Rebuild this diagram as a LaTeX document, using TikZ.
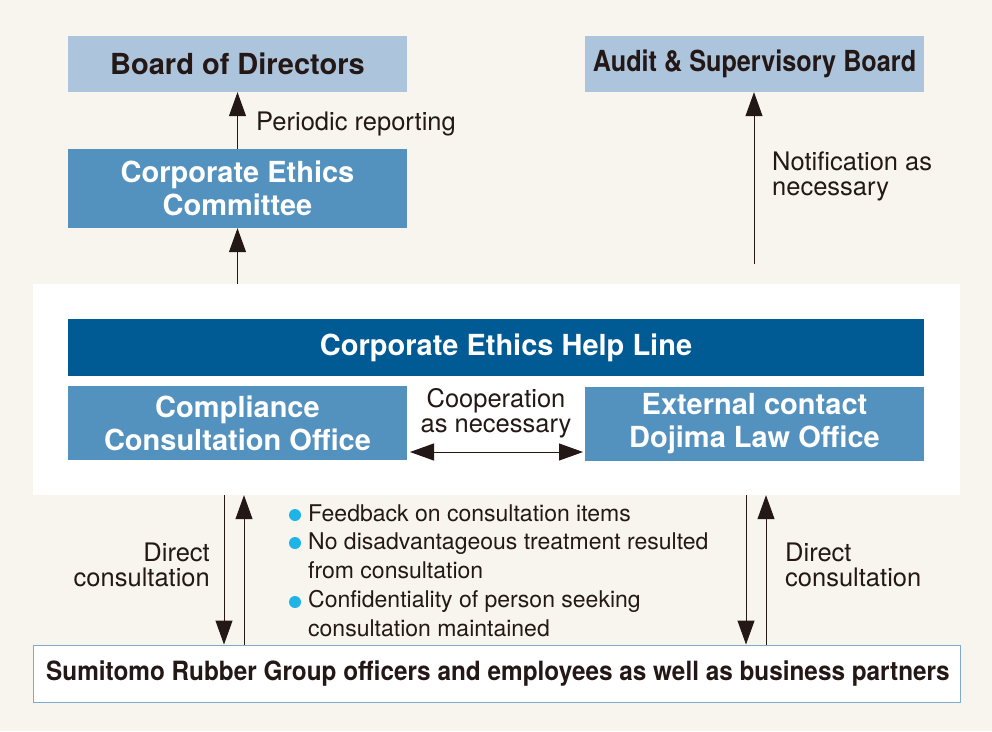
\documentclass[tikz,border=0pt]{standalone}
\usepackage{fontspec}
\setmainfont{TeX Gyre Heros}
\usetikzlibrary{arrows.meta}
\definecolor{bgc}{HTML}{F8F5EE}
\definecolor{lblue}{HTML}{ADC4DD}
\definecolor{mblue}{HTML}{5392BF}
\definecolor{dblue}{HTML}{005B95}
\definecolor{txt}{HTML}{231815}
\definecolor{bord}{HTML}{7FAAD0}
\definecolor{cyanb}{HTML}{1EB4E8}
\tikzset{
  box/.style={rectangle, inner sep=0pt, minimum width=339pt, minimum height=56pt, align=center},
  topbox/.style={box, fill=lblue, text=txt, font=\fontsize{29}{33}\selectfont\bfseries},
  midbox/.style={box, fill=mblue, text=white, font=\fontsize{29}{33}\selectfont\bfseries},
  lbl/.style={text=txt, font=\fontsize{25.5}{25}\selectfont, inner sep=0pt},
  bultxt/.style={lbl, align=left, anchor=base west, font=\fontsize{23}{29}\selectfont},
  arr/.style={draw=txt, line width=1pt, -{Triangle[length=24pt,width=17pt]}},
  darr/.style={draw=txt, line width=1pt, {Triangle[length=24pt,width=17pt]}-{Triangle[length=24pt,width=17pt]}},
  bul/.style={circle, fill=cyanb, inner sep=0pt, minimum size=12pt}
}
\begin{document}
\begin{tikzpicture}[x=1pt,y=-1pt]
\fill[bgc] (0,0) rectangle (992,731);
\useasboundingbox (0,0) rectangle (992,731);
% white help-line panel
\node[rectangle, fill=white, inner sep=0pt, minimum width=927pt, minimum height=211pt] (panel) at (496.5,389.5) {};
% top boxes
\node[topbox] (bod) at (237.5,64) {Board of Directors};
\node[topbox] (asb) at (754.5,64) {\scalebox{0.87}[1]{Audit \& Supervisory Board}};
\node[midbox, minimum height=79pt] (cec) at (237.5,188.5) {Corporate Ethics\\Committee};
% help line
\node[box, minimum width=856pt, minimum height=57pt, fill=dblue, text=white, font=\fontsize{29}{33}\selectfont\bfseries] (help) at (496,347.5) {\hspace*{20pt}Corporate Ethics Help Line};
\node[midbox, minimum height=74pt] (cco) at (237.5,423) {Compliance\\Consultation Office};
\node[midbox, minimum height=74pt] (ext) at (754.5,424) {External contact\\Dojima Law Office};
% bottom box
\node[rectangle, draw=bord, line width=1pt, fill=white, inner sep=0pt, minimum width=927pt, minimum height=57pt, text=txt, font=\fontsize{26.5}{30}\selectfont\bfseries] (emp) at (496.5,673.5) {\hspace*{3pt}\scalebox{0.918}[1]{Sumitomo Rubber Group officers and employees as well as business partners}};
% arrows top
\draw[arr] (cec.north -| bod.south) -- (bod.south);
\draw[arr] (panel.north -| cec.south) -- (cec.south);
\coordinate (nstart) at (754,264);
\draw[arr] (nstart) -- (nstart |- asb.south);
\node[lbl, anchor=base west] (lpr) at (256,130) {Periodic reporting};
\node[lbl, anchor=base west, align=left] (lnot) at (772,195) {Notification as\\necessary};
% cooperation
\draw[darr] (410,452) coordinate (cl) -- (583,452) coordinate (cr);
\node[lbl, anchor=base, align=center] (lcoop) at (496,432) {Cooperation\\as necessary};
% bottom arrows
\coordinate (l1) at (224,0); \coordinate (l2) at (244,0);
\coordinate (r1) at (746,0); \coordinate (r2) at (766,0);
\draw[arr] (l1 |- panel.south) -- (l1 |- emp.north);
\draw[arr] (l2 |- emp.north) -- (l2 |- panel.south);
\draw[arr] (r1 |- panel.south) -- (r1 |- emp.north);
\draw[arr] (r2 |- emp.north) -- (r2 |- panel.south);
\node[lbl, anchor=base east, align=right] (ldl) at (210,586) {Direct\\consultation};
\node[lbl, anchor=base west, align=left] (ldr) at (785,586) {Direct\\consultation};
% bullets
\node[bul] (b1) at (295,515) {};
\node[bul] (b2) at (295,543) {};
\node[bul] (b3) at (295,602) {};
\node[bultxt] (t1) at (308,521) {Feedback on consultation items};
\node[bultxt] (t2) at (308,578) {No disadvantageous treatment resulted\\from consultation};
\node[bultxt] (t3) at (308,636) {Confidentiality of person seeking\\consultation maintained};
\end{tikzpicture}
\end{document}
